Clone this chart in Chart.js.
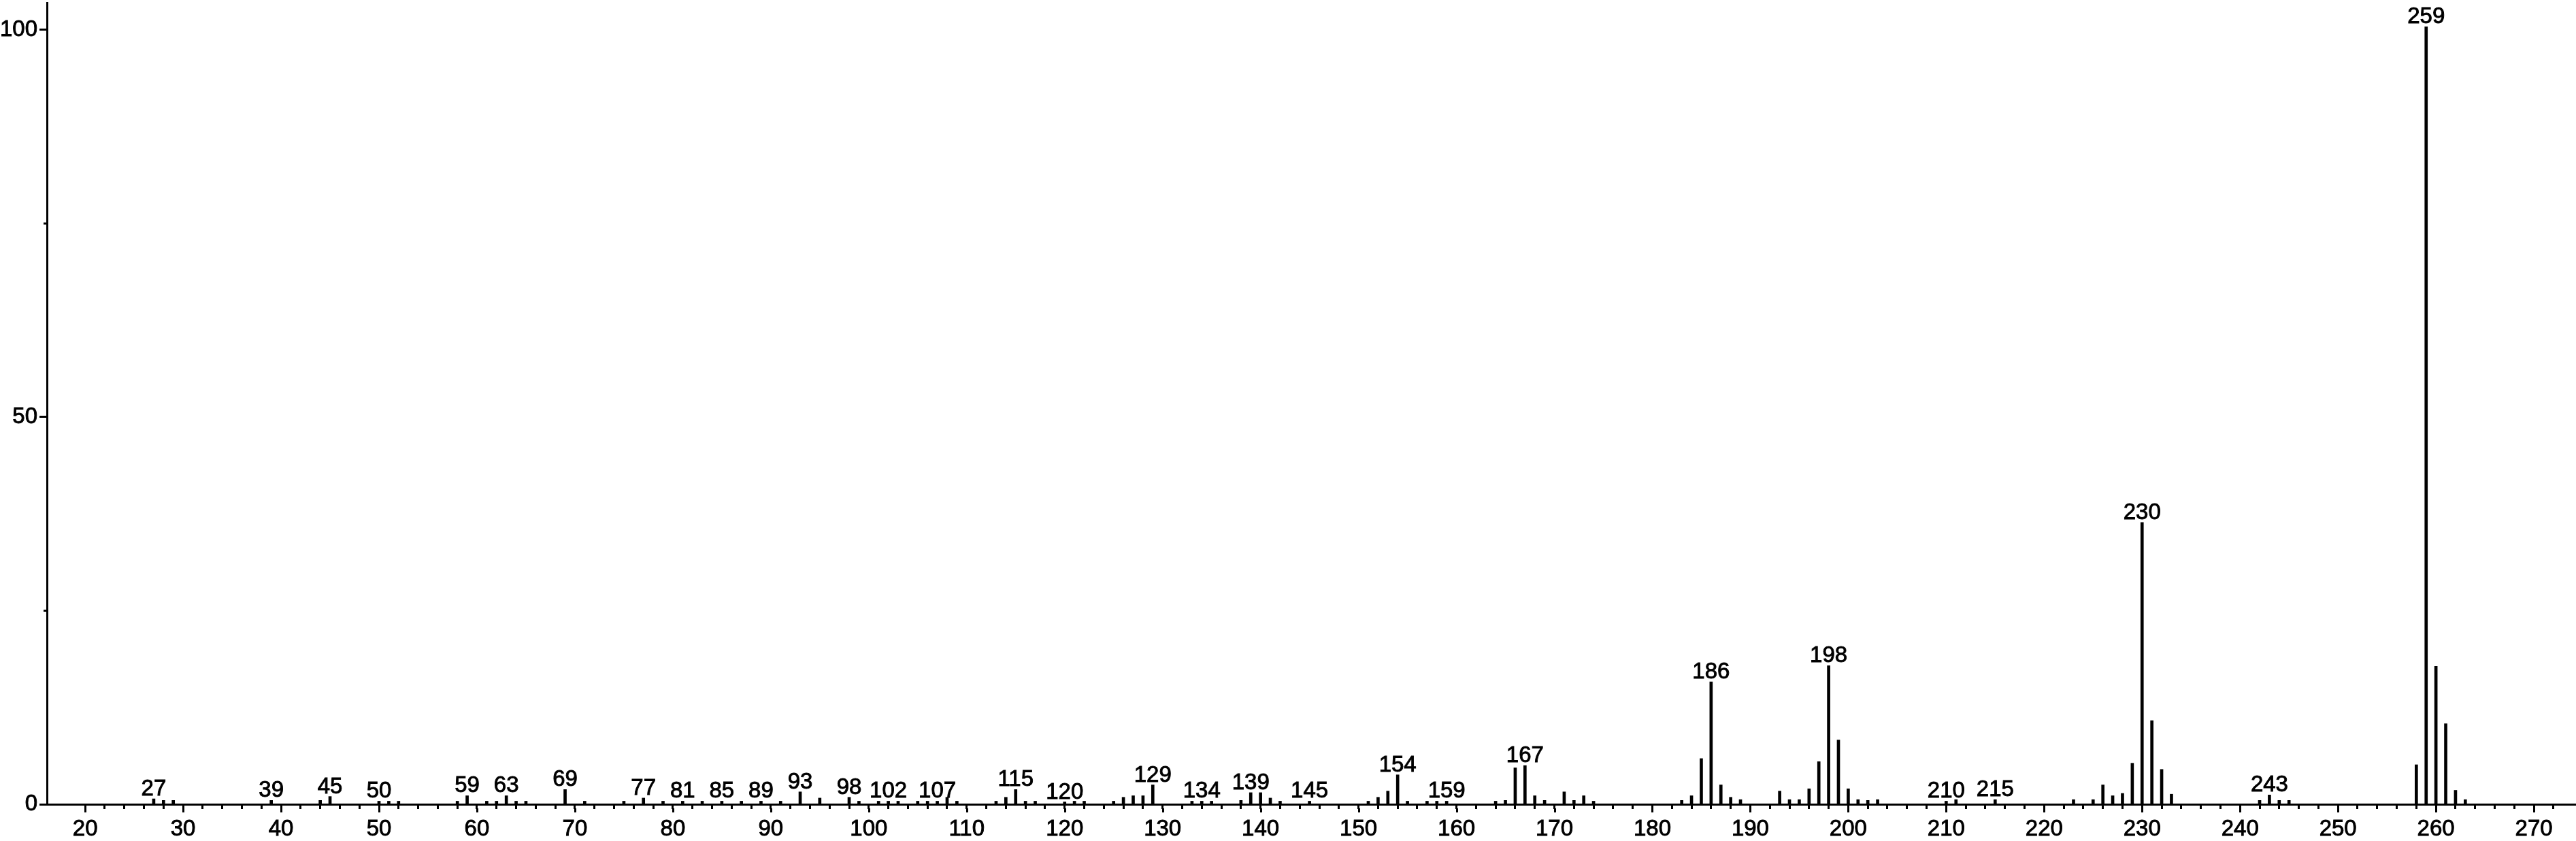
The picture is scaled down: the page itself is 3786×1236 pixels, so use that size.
<!DOCTYPE html>
<html>
<head>
<meta charset="utf-8">
<script src="https://cdn.jsdelivr.net/npm/chart.js@4/dist/chart.umd.min.js"></script>
<style>
  html, body { margin: 0; padding: 0; background: #fff; }
  canvas { display: block; }
</style>
</head>
<body>
<canvas id="spectrum" width="3786" height="1236"></canvas>
<script>
// m/z values and relative intensities (%)
const masses = [
  27, 28, 29, 39, 44, 45, 50, 51, 52, 58, 59, 61, 62, 63, 64, 65, 69, 71, 75, 77,
  79, 81, 83, 85, 87, 89, 91, 93, 95, 98, 99, 101, 102, 103, 105, 106, 107, 108, 109,
  113, 114, 115, 116, 117, 120, 121, 122, 125, 126, 127, 128, 129, 133, 134, 135,
  138, 139, 140, 141, 142, 145, 151, 152, 153, 154, 155, 157, 158, 159, 164, 165,
  166, 167, 168, 169, 171, 172, 173, 174, 183, 184, 185, 186, 187, 188, 189, 193,
  194, 195, 196, 197, 198, 199, 200, 201, 202, 203, 210, 211, 215, 223, 225, 226,
  227, 228, 229, 230, 231, 232, 233, 242, 243, 244, 245, 258, 259, 260, 261, 262, 263
];
const intensities = [
  0.7, 0.5, 0.5, 0.5, 0.5, 1.0, 0.4, 0.4, 0.4, 0.4, 1.1, 0.4, 0.4, 1.1, 0.4, 0.4, 1.9, 0.4, 0.4, 0.8,
  0.4, 0.4, 0.4, 0.4, 0.4, 0.4, 0.4, 1.6, 0.8, 0.9, 0.4, 0.4, 0.4, 0.4, 0.4, 0.4, 0.4, 0.9, 0.4,
  0.4, 0.9, 1.9, 0.4, 0.4, 0.3, 0.4, 0.4, 0.4, 0.9, 1.1, 1.1, 2.5, 0.4, 0.4, 0.4,
  0.5, 1.5, 1.5, 0.8, 0.4, 0.4, 0.4, 0.9, 1.7, 3.8, 0.4, 0.4, 0.4, 0.4, 0.4, 0.5,
  4.7, 5.0, 1.1, 0.5, 1.6, 0.5, 1.1, 0.4, 0.5, 1.1, 5.9, 15.8, 2.5, 0.9, 0.6, 1.7,
  0.6, 0.6, 2.0, 5.5, 17.9, 8.3, 2.0, 0.6, 0.5, 0.6, 0.4, 0.6, 0.6, 0.6, 0.6, 2.5,
  1.1, 1.4, 5.3, 36.4, 10.8, 4.5, 1.3, 0.5, 1.2, 0.5, 0.5, 5.1, 100.4, 17.8, 10.4, 1.8, 0.6
];
// peaks that carry an m/z label
const labelledMasses = [
  27, 39, 45, 50, 59, 63, 69, 77, 81, 85, 89, 93, 98, 102, 107, 115, 120, 129, 134,
  139, 145, 154, 159, 167, 186, 198, 210, 215, 230, 243, 259
];
const xMin = 16.1, xMax = 274.3;
const yMax = 103.5;

const FONT = 'Liberation Sans, Arial, sans-serif';

// longer marks for every 10th m/z, short ones for the others
const tickMarks = {
  id: 'tickMarks',
  afterDraw(chart) {
    const ctx = chart.ctx;
    const x = chart.scales.x, y = chart.scales.y;
    ctx.save();
    ctx.strokeStyle = '#000';
    ctx.lineWidth = 3;
    x.ticks.forEach(t => {
      if (t.value % 10 === 0) {
        const px = Math.round(x.getPixelForValue(t.value)) + 0.5;
        ctx.beginPath();
        ctx.moveTo(px, x.top + 6);
        ctx.lineTo(px, x.top + 12);
        ctx.stroke();
      }
    });
    y.ticks.forEach(t => {
      if (t.value % 50 !== 0) {
        const py = Math.round(y.getPixelForValue(t.value)) + 0.5;
        ctx.beginPath();
        ctx.moveTo(y.right - 5, py);
        ctx.lineTo(y.right, py);
        ctx.stroke();
      }
    });
    ctx.restore();
  }
};

const peakLabels = {
  id: 'peakLabels',
  afterDatasetsDraw(chart) {
    const ctx = chart.ctx;
    const x = chart.scales.x, y = chart.scales.y;
    ctx.save();
    ctx.fillStyle = '#000';
    ctx.strokeStyle = '#000';
    ctx.lineWidth = 0.9;
    ctx.font = '33px ' + FONT;
    ctx.textAlign = 'center';
    ctx.textBaseline = 'alphabetic';
    labelledMasses.forEach(m => {
      const i = masses.indexOf(m);
      const px = x.getPixelForValue(m);
      const py = y.getPixelForValue(intensities[i]);
      ctx.fillText(String(m), px, py - 5);
      ctx.strokeText(String(m), px, py - 5);
    });
    ctx.restore();
  }
};

new Chart(document.getElementById('spectrum'), {
  type: 'bar',
  data: {
    datasets: [{
      data: masses.map((m, i) => ({ x: m, y: intensities[i] })),
      backgroundColor: '#000',
      borderWidth: 0,
      barThickness: 4
    }]
  },
  options: {
    responsive: false,
    animation: false,
    layout: { padding: { top: 4, right: 0, bottom: 0, left: 0 } },
    plugins: {
      legend: { display: false },
      tooltip: { enabled: false }
    },
    scales: {
      x: {
        type: 'linear',
        offset: false,
        min: xMin,
        max: xMax,
        border: { display: true, color: '#000', width: 3 },
        grid: { offset: false, drawOnChartArea: false, tickLength: 7, tickWidth: 3, tickColor: '#000' },
        ticks: {
          stepSize: 2,
          autoSkip: false,
          maxRotation: 0,
          padding: 10,
          color: '#000',
          textStrokeColor: '#000',
          textStrokeWidth: 0.9,
          font: { family: FONT, size: 33 },
          callback: v => (v % 10 === 0 ? String(v) : '')
        },
        afterBuildTicks: s => { s.ticks = s.ticks.filter(t => Number.isInteger(t.value)); },
        afterFit: s => { s.height = 54; s.paddingLeft = 0; s.paddingRight = 0; }
      },
      y: {
        min: 0,
        max: yMax,
        border: { display: true, color: '#000', width: 3 },
        grid: {
          drawOnChartArea: false,
          tickLength: 11,
          tickWidth: 3,
          tickColor: ctx => (ctx.tick && ctx.tick.value % 50 === 0 ? '#000' : 'rgba(0,0,0,0)')
        },
        ticks: {
          stepSize: 25,
          padding: 3,
          color: '#000',
          textStrokeColor: '#000',
          textStrokeWidth: 0.9,
          font: { family: FONT, size: 33 },
          callback: v => (v % 50 === 0 ? String(v) : '')
        },
        afterBuildTicks: s => { s.ticks = s.ticks.filter(t => t.value % 25 === 0); },
        afterFit: s => { s.width = 69; s.paddingTop = 0; s.paddingBottom = 0; }
      }
    }
  },
  plugins: [tickMarks, peakLabels]
});
</script>
</body>
</html>
